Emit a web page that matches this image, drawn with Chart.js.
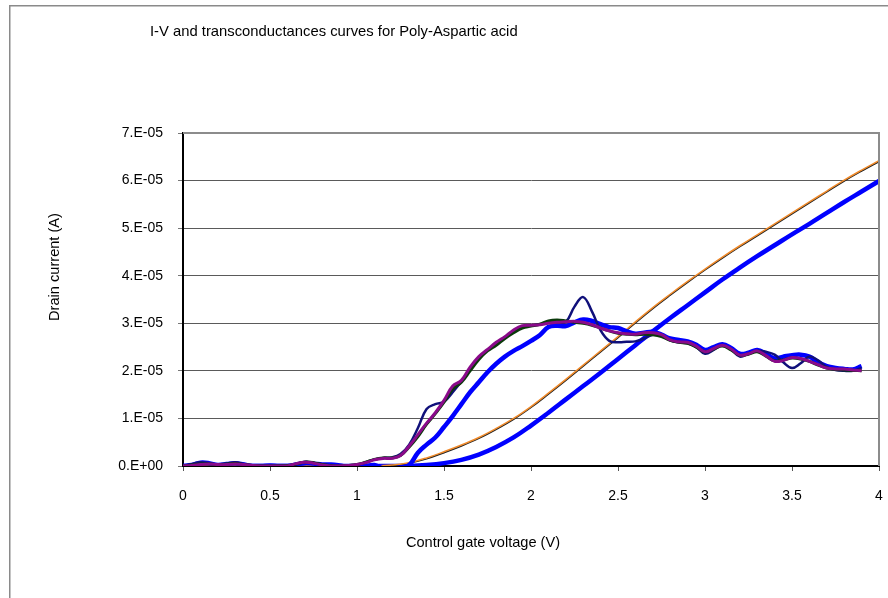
<!DOCTYPE html>
<html>
<head>
<meta charset="utf-8">
<script src="https://cdn.jsdelivr.net/npm/chart.js@4/dist/chart.umd.min.js"></script>
<style>
  html, body { margin: 0; padding: 0; background: #ffffff; }
  #wrap { position: relative; width: 888px; height: 598px; }
</style>
</head>
<body>
<div id="wrap"><canvas id="chart" width="888" height="598"></canvas></div>
<script>
// Gate voltage sweep (V): 0.1 V steps for the I-V curves, 0.05 V for the transconductances
const vIV = [0.0,0.1,0.2,0.3,0.4,0.5,0.6,0.7,0.8,0.9,
             1.0,1.1,1.2,1.3,1.4,1.5,1.6,1.7,1.8,1.9,
             2.0,2.1,2.2,2.3,2.4,2.5,2.6,2.7,2.8,2.9,
             3.0,3.1,3.2,3.3,3.4,3.5,3.6,3.7,3.8,3.9,4.0];
const vGm = [0.00,0.05,0.10,0.15,0.20,0.25,0.30,0.35,0.40,0.45,
             0.50,0.55,0.60,0.65,0.70,0.75,0.80,0.85,0.90,0.95,
             1.00,1.05,1.10,1.15,1.20,1.25,1.30,1.35,1.40,1.45,
             1.50,1.55,1.60,1.65,1.70,1.75,1.80,1.85,1.90,1.95,
             2.00,2.05,2.10,2.15,2.20,2.25,2.30,2.35,2.40,2.45,
             2.50,2.55,2.60,2.65,2.70,2.75,2.80,2.85,2.90,2.95,
             3.00,3.05,3.10,3.15,3.20,3.25,3.30,3.35,3.40,3.45,
             3.50,3.55,3.60,3.65,3.70,3.75,3.80,3.85,3.90];

// Drain current, in units of 1E-05 A
const idsOrange = [0,0,0,0,0,0,0,0,0,0,
                   0,0,0.02,0.07,0.17,0.30,0.44,0.60,0.79,1.00,
                   1.25,1.53,1.82,2.12,2.42,2.72,3.03,3.33,3.61,3.88,
                   4.14,4.39,4.63,4.86,5.09,5.32,5.55,5.78,6.01,6.22,6.42];
const idsBlack  = [0,0,0,0,0,0,0,0,0,0,
                   0,0,0.01,0.06,0.15,0.28,0.42,0.58,0.77,0.98,
                   1.23,1.51,1.80,2.10,2.40,2.70,3.01,3.31,3.59,3.86,
                   4.12,4.37,4.61,4.84,5.07,5.30,5.53,5.76,5.99,6.20,6.40];
const idsBlue   = [0,0,0,0,0,0,0,0,0,0,
                   0,0,0,0,0.02,0.06,0.13,0.24,0.40,0.60,
                   0.85,1.12,1.40,1.68,1.96,2.25,2.54,2.83,3.11,3.38,
                   3.65,3.92,4.17,4.41,4.64,4.87,5.09,5.32,5.55,5.77,5.99];

// Transconductance curves, same 1E-05 scale
const gmPurple = [0.00,0.01,0.03,0.04,0.03,0.03,0.04,0.03,0.01,0.00,
                  0.00,0.00,0.00,0.05,0.08,0.06,0.02,0.00,0.00,0.01,
                  0.03,0.07,0.13,0.16,0.16,0.22,0.42,0.66,0.90,1.12,
                  1.38,1.68,1.80,2.08,2.30,2.45,2.60,2.72,2.86,2.95,
                  2.96,2.97,3.00,3.02,3.03,3.04,3.02,2.97,2.90,2.84,
                  2.80,2.78,2.77,2.80,2.80,2.76,2.65,2.61,2.60,2.52,
                  2.40,2.47,2.54,2.46,2.33,2.36,2.42,2.32,2.20,2.22,
                  2.28,2.26,2.20,2.13,2.06,2.04,2.04,2.02,2.00];
const gmGreen  = [0.00,0.02,0.04,0.04,0.03,0.04,0.05,0.03,0.01,0.00,
                  0.00,0.00,0.01,0.04,0.08,0.07,0.03,0.01,0.00,0.01,
                  0.03,0.08,0.14,0.17,0.17,0.22,0.40,0.62,0.88,1.10,
                  1.34,1.62,1.76,2.00,2.24,2.42,2.54,2.68,2.80,2.90,
                  2.94,2.98,3.05,3.07,3.05,3.02,3.00,2.96,2.90,2.84,
                  2.79,2.77,2.76,2.77,2.76,2.72,2.64,2.60,2.58,2.50,
                  2.40,2.46,2.52,2.44,2.33,2.35,2.40,2.31,2.21,2.23,
                  2.27,2.25,2.20,2.12,2.06,2.03,2.02,2.01,2.00];
const gmNavy   = [0.00,0.04,0.08,0.06,0.02,0.05,0.08,0.04,0.01,0.00,
                  0.00,0.01,0.00,0.04,0.09,0.07,0.03,0.01,0.00,0.01,
                  0.03,0.08,0.14,0.17,0.18,0.25,0.45,0.80,1.20,1.30,
                  1.35,1.55,1.78,2.04,2.28,2.44,2.56,2.70,2.84,2.92,
                  2.95,2.98,3.01,3.02,3.03,3.35,3.55,3.25,2.85,2.63,
                  2.60,2.61,2.62,2.68,2.76,2.76,2.64,2.60,2.58,2.50,
                  2.36,2.44,2.54,2.45,2.30,2.36,2.42,2.40,2.34,2.18,
                  2.06,2.16,2.30,2.22,2.08,2.02,2.00,2.00,2.06];
const gmBlue   = [0.00,0.02,0.07,0.06,0.02,0.04,0.06,0.03,0.00,0.00,
                  0.01,0.00,0.00,0.03,0.06,0.05,0.03,0.03,0.01,-0.02,
                  -0.02,0.00,0.02,-0.05,-0.06,-0.03,0.02,0.28,0.45,0.60,
                  0.82,1.05,1.30,1.55,1.76,1.97,2.15,2.30,2.42,2.52,
                  2.63,2.75,2.92,2.95,2.94,3.02,3.08,3.05,2.98,2.92,
                  2.90,2.83,2.78,2.80,2.82,2.76,2.68,2.65,2.62,2.55,
                  2.44,2.50,2.56,2.48,2.36,2.38,2.44,2.36,2.26,2.30,
                  2.33,2.34,2.30,2.18,2.10,2.06,2.04,2.03,2.10];

// Axis tick text
const xTickLabels = ['0','0.5','1','1.5','2','2.5','3','3.5','4'];
const yTickLabels = ['0.E+00','1.E-05','2.E-05','3.E-05','4.E-05','5.E-05','6.E-05','7.E-05'];

const chartTitle = 'I-V and transconductances curves for Poly-Aspartic acid';
const xTitle = 'Control gate voltage (V)';
const yTitle = 'Drain current (A)';

const FONT = "'Liberation Sans', Arial, sans-serif";

function pts(xs, ys) {
  return ys.map((y, i) => ({ x: xs[i], y: y }));
}
function line(label, xs, ys, color, width) {
  return {
    label: label,
    data: pts(xs, ys),
    borderColor: color,
    backgroundColor: color,
    borderWidth: width,
    pointRadius: 0,
    showLine: true,
    fill: false,
    tension: 0.4
  };
}

// Frame, titles and plot-area border drawn around the chart
const decorations = {
  id: 'decorations',
  beforeDraw(chart) {
    const ctx = chart.ctx;
    ctx.save();
    ctx.fillStyle = '#ffffff';
    ctx.fillRect(0, 0, chart.width, chart.height);
    ctx.strokeStyle = '#8a8a8a';
    ctx.lineWidth = 1.5;
    ctx.beginPath();
    ctx.moveTo(9.75, chart.height);
    ctx.lineTo(9.75, 5.75);
    ctx.lineTo(chart.width, 5.75);
    ctx.stroke();
    ctx.restore();
  },
  afterDraw(chart) {
    const ctx = chart.ctx;
    const a = chart.chartArea;
    ctx.save();
    ctx.strokeStyle = '#8c8c8c';
    ctx.lineWidth = 2;
    ctx.beginPath();
    ctx.moveTo(a.left, a.top);
    ctx.lineTo(a.right, a.top);
    ctx.lineTo(a.right, a.bottom);
    ctx.stroke();

    ctx.fillStyle = '#000000';
    ctx.textBaseline = 'middle';
    ctx.textAlign = 'left';
    ctx.font = '14.8px ' + FONT;
    ctx.fillText(chartTitle, 150, 32);
    ctx.textAlign = 'center';
    ctx.font = '14.6px ' + FONT;
    ctx.fillText(xTitle, 483, 543);
    ctx.translate(55, 267);
    ctx.rotate(-Math.PI / 2);
    ctx.fillText(yTitle, 0, 0);
    ctx.restore();
  }
};

new Chart(document.getElementById('chart'), {
  type: 'scatter',
  data: {
    datasets: [
      line('gm 3', vGm, gmPurple, '#8a0a8a', 3),
      line('gm 2', vGm, gmGreen, '#0a3a0a', 3),
      line('gm 1', vGm, gmNavy, '#10107a', 2.5),
      line('gm 4', vGm, gmBlue, '#0000ff', 4.5),
      line('Id 2', vIV, idsOrange, '#f08a2a', 1.5),
      line('Id 1', vIV, idsBlack, '#202020', 1.5),
      line('Id 3', vIV, idsBlue, '#0000ff', 4.5)
    ]
  },
  options: {
    responsive: false,
    devicePixelRatio: 1,
    animation: false,
    layout: { padding: { left: 0, top: 133, right: 9, bottom: 0 } },
    plugins: {
      legend: { display: false },
      tooltip: { enabled: false },
      title: { display: false }
    },
    scales: {
      x: {
        type: 'linear',
        min: 0,
        max: 4,
        ticks: {
          stepSize: 0.5,
          color: '#000000',
          font: { family: FONT, size: 14 },
          padding: 17,
          maxRotation: 0,
          callback: (v) => xTickLabels[Math.round(v * 2)]
        },
        grid: { drawOnChartArea: false, drawTicks: true, tickLength: 5, color: '#555555' },
        border: { color: '#000000', width: 2 },
        afterFit: (s) => { s.height = 132; s.paddingLeft = 0; s.paddingRight = 0; }
      },
      y: {
        type: 'linear',
        min: 0,
        max: 7,
        ticks: {
          stepSize: 1,
          color: '#000000',
          font: { family: FONT, size: 14 },
          padding: 15,
          callback: (v) => yTickLabels[Math.round(v)]
        },
        grid: {
          color: (c) => (c.tick && c.tick.value === 7 ? '#8c8c8c' : '#5a5a5a'),
          lineWidth: 1,
          tickLength: 5,
          tickColor: '#777777'
        },
        border: { color: '#000000', width: 2 },
        afterFit: (s) => { s.width = 183; s.paddingTop = 0; s.paddingBottom = 0; }
      }
    }
  },
  plugins: [decorations]
});
</script>
</body>
</html>
